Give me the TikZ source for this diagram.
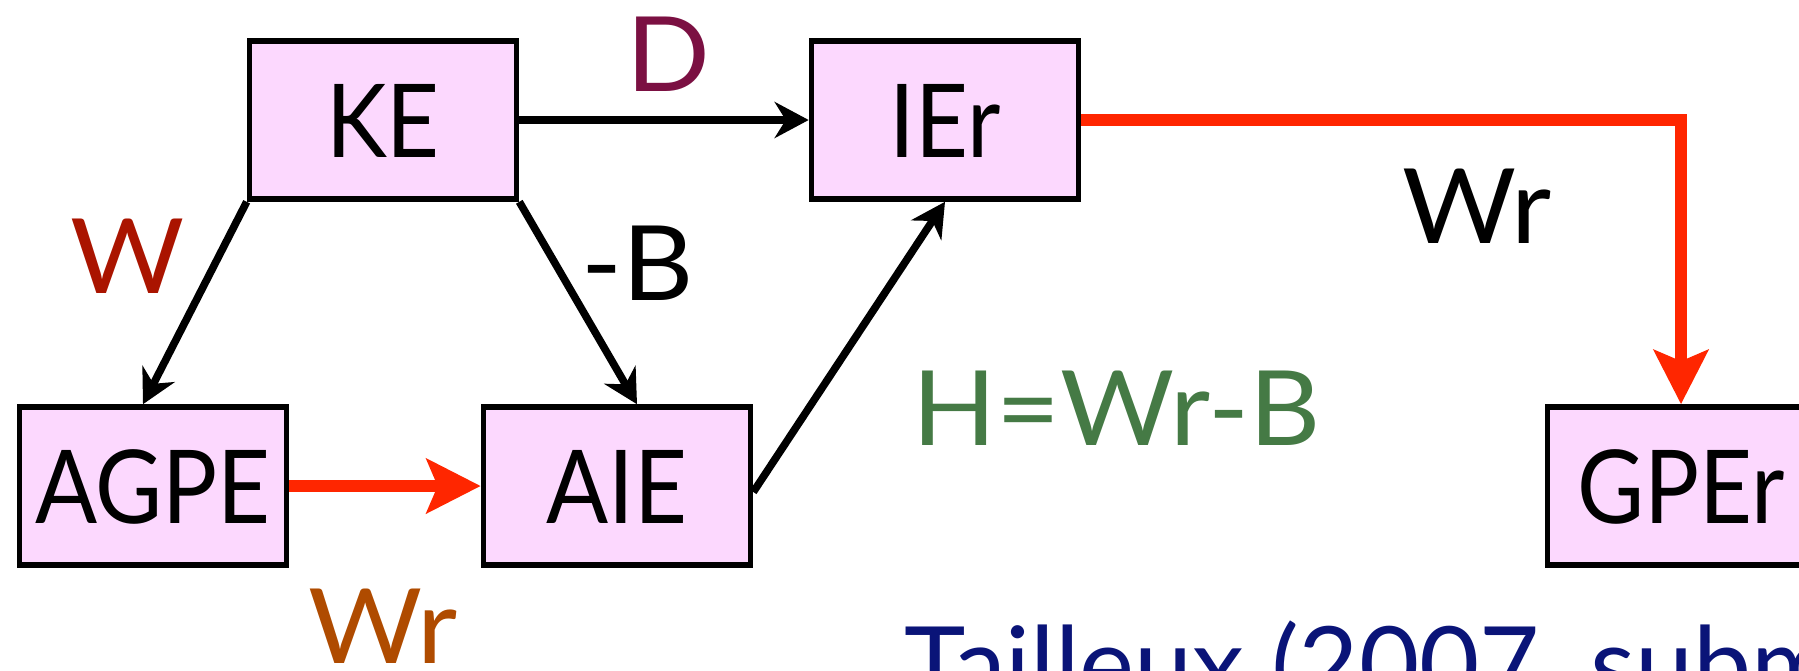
\documentclass[tikz,border=0pt]{standalone}
\usepackage{fontspec}
\setmainfont{Lato}
\newfontfamily\boxfont[FakeStretch=0.9]{Lato}
\newfontfamily\lblfont[FakeStretch=1.06]{Lato}
\usetikzlibrary{arrows.meta,positioning}
\definecolor{boxpink}{RGB}{252,216,254}
\definecolor{flowred}{RGB}{255,38,0}
\definecolor{dcol}{RGB}{123,16,66}
\definecolor{wcol}{RGB}{170,20,0}
\definecolor{wrcol}{RGB}{175,75,0}
\definecolor{hcol}{RGB}{69,122,69}
\definecolor{navycol}{RGB}{10,20,120}
\tikzset{
  ebox/.style={draw=black, line width=2.8pt, fill=boxpink, minimum width=133.5pt,
    minimum height=79pt, inner sep=0pt, text height=37pt, text depth=0pt,
    font=\boxfont\fontsize{51}{60}\selectfont},
  blackflow/.style={draw=black, line width=3.8pt, -{Stealth[length=17pt,width=18pt]}},
  redflow/.style={draw=flowred, line width=6pt, -{Stealth[length=27pt,width=27pt,inset=5.5pt]}},
  lbl/.style={anchor=base, inner sep=0pt, font=\lblfont\fontsize{52}{62}\selectfont}
}
\begin{document}
\begin{tikzpicture}[x=0.5pt,y=-0.5pt]
\useasboundingbox (0,0) rectangle (1799,670);
% boxes
\node[ebox] (KE)   at (383,120) {KE};
\node[ebox] (IEr)  at (945,120) {IEr};
\node[ebox] (AGPE) at (153,486) {AGPE};
\node[ebox] (AIE)  at (617,486) {AIE};
\node[ebox] (GPEr) at (1681,486) {GPEr};
% connectors
\draw[blackflow] (KE.east) -- (IEr.west);
\draw[blackflow] (KE.south west) -- ([xshift=-5pt]AGPE.north);
\draw[blackflow] (KE.south east) -- ([xshift=10pt]AIE.north);
\draw[blackflow] ([yshift=-3pt]AIE.east) -- (IEr.south);
\draw[redflow] (AGPE.east) -- (AIE.west);
\draw[redflow] (IEr.east) -| (GPEr.north);
% labels
\node[lbl, text=dcol] (lD) at (668,91) {D};
\node[lbl, text=wcol] (lW) at (128,293) {W};
\node[lbl] (lB) at (638,300) {-B};
\node[lbl, text=wrcol] (lWr1) at (383,663) {Wr};
\node[lbl] (lWr2) at (1477,243) {Wr};
\node[lbl, anchor=base west, text=hcol] (lH) at (912,445) {H=Wr-B};
\node[lbl, anchor=base west, text=navycol, font=\fontsize{52}{62}\selectfont] (lT) at (904,701) {Tailleux (2007, submitted)};
\end{tikzpicture}
\end{document}
